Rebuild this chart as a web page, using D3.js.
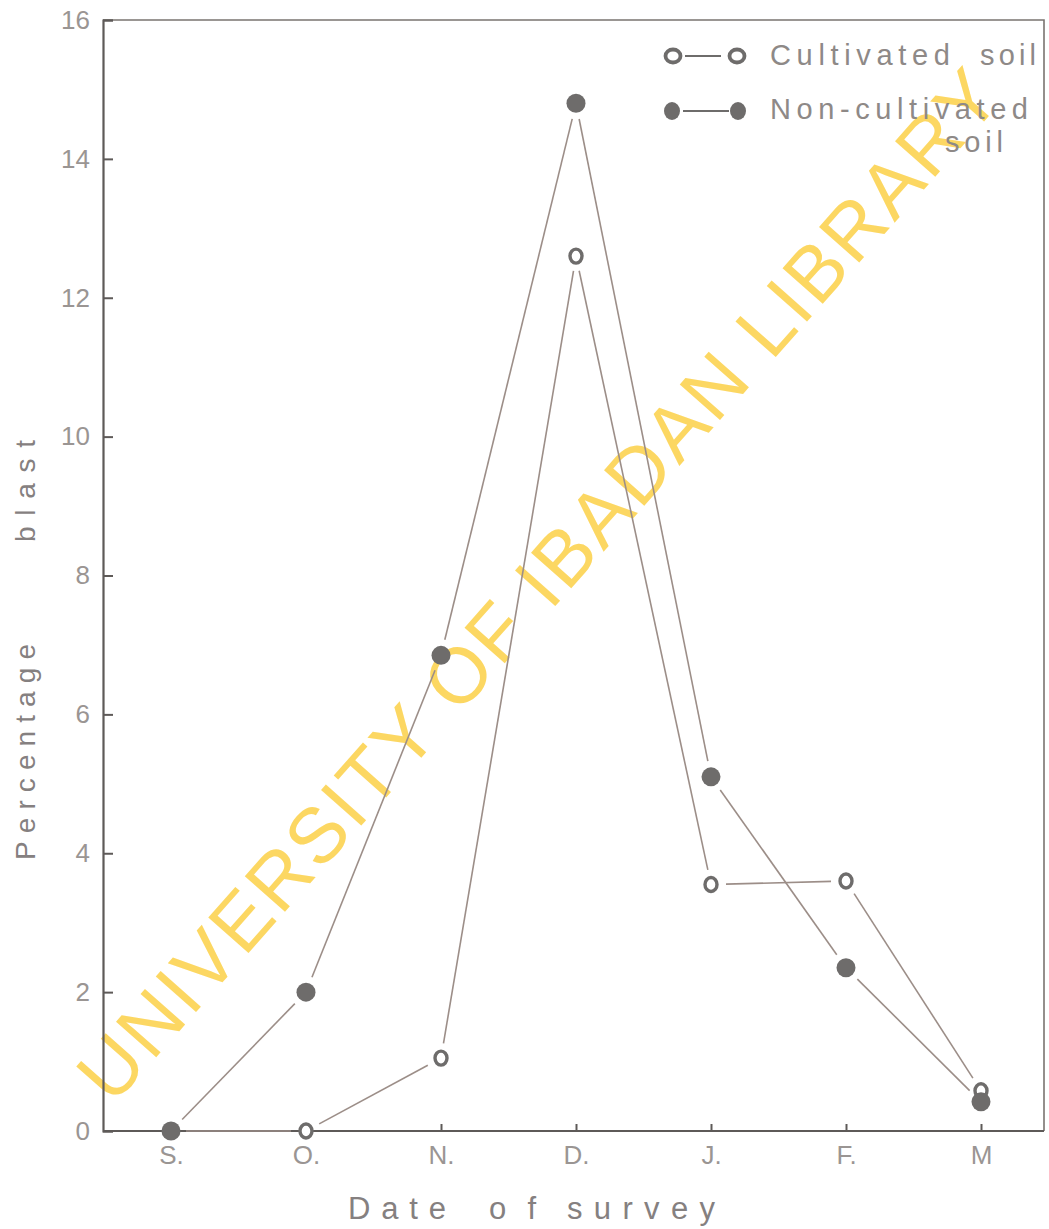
<!DOCTYPE html>
<html>
<head>
<meta charset="utf-8">
<script src="https://cdn.jsdelivr.net/npm/d3@7"></script>
<style>
  html, body { margin: 0; padding: 0; background: #ffffff; }
  svg { display: block; }
</style>
</head>
<body>
<svg id="chart" width="1049" height="1229"></svg>
<script>
// ---- data ----
const categories = ["S.", "O.", "N.", "D.", "J.", "F.", "M"];
const cultivated = [0, 0, 1.05, 12.6, 3.55, 3.6, 0.58];
const nonCultivated = [0, 2.0, 6.85, 14.8, 5.1, 2.35, 0.42];
const yTicks = [0, 2, 4, 6, 8, 10, 12, 14, 16];

const svg = d3.select("#chart");
const pLeft = 103, pRight = 1044, pTop = 20, pBottom = 1131;
const font = "'Liberation Sans', Arial, sans-serif";

const x = d3.scalePoint().domain(categories).range([171, 981]);
const y = d3.scaleLinear().domain([0, 16]).range([pBottom, pTop]);

// watermark (behind)
svg.append("text")
  .attr("transform", "translate(538,585) rotate(-48.5)")
  .attr("text-anchor", "middle")
  .attr("dominant-baseline", "central")
  .attr("font-family", font)
  .attr("font-size", 78)
  .attr("fill", "#fbd047")
  .attr("fill-opacity", 0.85)
  .attr("textLength", 1345)
  .attr("lengthAdjust", "spacing")
  .text("UNIVERSITY OF IBADAN LIBRARY");

// frame
svg.append("path")
  .attr("d", `M${pLeft},${pTop}H${pRight}V${pBottom}`)
  .attr("fill", "none").attr("stroke", "#7a7470").attr("stroke-width", 1.6);

// axes
const yAxis = d3.axisLeft(y).tickValues(yTicks).tickSize(-10).tickPadding(13).tickFormat(d3.format("d"));
const gy = svg.append("g").attr("transform", `translate(${pLeft},0)`).call(yAxis);
const xAxis = d3.axisBottom(x).tickSize(-7).tickPadding(15);
const gx = svg.append("g").attr("transform", `translate(0,${pBottom})`).call(xAxis);
[gy, gx].forEach(g => {
  g.select(".domain").attr("stroke", "#5e5a58").attr("stroke-width", 2.2);
  g.selectAll(".tick line").attr("stroke", "#5e5a58").attr("stroke-width", 2);
  g.selectAll(".tick text").attr("font-family", font).attr("fill", "#9a9593").attr("font-size", 26);
});
gx.select(".domain").attr("d", `M${pLeft},0H${pRight}`);

// axis titles
svg.append("text")
  .attr("transform", "translate(35,860) rotate(-90)")
  .attr("font-family", font).attr("font-size", 28).attr("fill", "#858080")
  .attr("textLength", 216).attr("lengthAdjust", "spacing")
  .text("Percentage");
svg.append("text")
  .attr("transform", "translate(35,542) rotate(-90)")
  .attr("font-family", font).attr("font-size", 28).attr("fill", "#858080")
  .attr("textLength", 102).attr("lengthAdjust", "spacing")
  .text("blast");
[["Date", 348, 98], ["of", 489, 47], ["survey", 567, 148]].forEach(([t, px, w]) => {
  svg.append("text")
    .attr("x", px).attr("y", 1219)
    .attr("font-family", font).attr("font-size", 31).attr("fill", "#858080")
    .attr("textLength", w).attr("lengthAdjust", "spacing")
    .text(t);
});

// lines with gaps near markers
function drawSeries(vals, gap) {
  const pts = vals.map((v, i) => [x(categories[i]), y(v)]);
  const g = svg.append("g");
  for (let i = 0; i < pts.length - 1; i++) {
    const [x1, y1] = pts[i], [x2, y2] = pts[i + 1];
    const dx = x2 - x1, dy = y2 - y1, L = Math.hypot(dx, dy);
    if (L < 2 * gap + 2) continue;
    const ux = dx / L, uy = dy / L;
    g.append("line")
      .attr("x1", x1 + ux * gap).attr("y1", y1 + uy * gap)
      .attr("x2", x2 - ux * gap).attr("y2", y2 - uy * gap)
      .attr("stroke", "#9c8e88").attr("stroke-width", 1.6);
  }
  return pts;
}
const cPts = drawSeries(cultivated, 15);
const nPts = drawSeries(nonCultivated, 16);

// markers
svg.append("g").selectAll("ellipse").data(cPts).join("ellipse")
  .attr("cx", d => d[0]).attr("cy", d => d[1]).attr("rx", 6).attr("ry", 7)
  .attr("fill", "#ffffff").attr("stroke", "#6e6c6b").attr("stroke-width", 3.4);
svg.append("g").selectAll("circle").data(nPts).join("circle")
  .attr("cx", d => d[0]).attr("cy", d => d[1]).attr("r", 9.5)
  .attr("fill", "#6e6c6b");

// legend
const lg = svg.append("g");
lg.append("line").attr("x1", 685).attr("x2", 721).attr("y1", 56).attr("y2", 56)
  .attr("stroke", "#6e6c6b").attr("stroke-width", 2);
lg.append("ellipse").attr("cx", 673).attr("cy", 56).attr("rx", 7.5).attr("ry", 6.5)
  .attr("fill", "#fff").attr("stroke", "#6e6c6b").attr("stroke-width", 3.8);
lg.append("ellipse").attr("cx", 737).attr("cy", 56).attr("rx", 7.5).attr("ry", 6.5)
  .attr("fill", "#fff").attr("stroke", "#6e6c6b").attr("stroke-width", 3.8);
lg.append("line").attr("x1", 683).attr("x2", 729).attr("y1", 111).attr("y2", 111)
  .attr("stroke", "#6e6c6b").attr("stroke-width", 2);
lg.append("ellipse").attr("cx", 672).attr("cy", 111).attr("rx", 8).attr("ry", 9).attr("fill", "#6e6c6b");
lg.append("ellipse").attr("cx", 738).attr("cy", 111).attr("rx", 8).attr("ry", 9).attr("fill", "#6e6c6b");
[["Cultivated", 770, 65, 180], ["soil", 980, 65, 56], ["Non-cultivated", 770, 119, 258], ["soil", 945, 152, 58]].forEach(([t, px, py, w]) => {
  lg.append("text")
    .attr("x", px).attr("y", py)
    .attr("font-family", font).attr("font-size", 29).attr("fill", "#8e8987")
    .attr("textLength", w).attr("lengthAdjust", "spacing")
    .text(t);
});
</script>
</body>
</html>
